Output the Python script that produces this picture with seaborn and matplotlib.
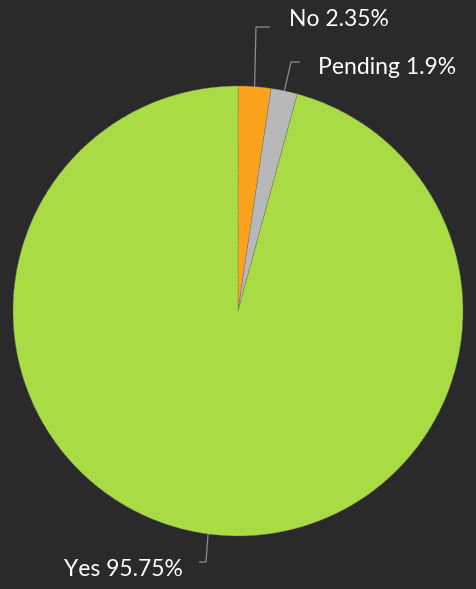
import matplotlib
matplotlib.use("Agg")
import matplotlib.pyplot as plt
import seaborn as sns
import numpy as np

categories = ["No", "Pending", "Yes"]
values = [2.35, 1.9, 95.75]
colors = ["#FBA31C", "#B8B8B8", "#A9DB45"]

bg = "#2A2A2A"
sns.set_theme(style="dark", rc={"figure.facecolor": bg, "axes.facecolor": bg})
plt.rcParams['font.family'] = ['Lato', 'DejaVu Sans']

fig = plt.figure(figsize=(4.77, 5.89), dpi=100)
ax = fig.add_axes([0, 0, 1, 1])
ax.set_facecolor(bg)

R = 225.0
cx, cy = 238.0, 311.0
wedges, _ = ax.pie(values, colors=colors, startangle=90, counterclock=False,
                   radius=1.0, wedgeprops=dict(edgecolor="#707070", linewidth=0.4,
                                               linestyle=(0, (3, 2))))

ax.set_xlim(-cx / R, (477 - cx) / R)
ax.set_ylim((cy - 589) / R, cy / R)
ax.set_aspect("auto")
ax.axis("off")

def px(x, y):
    return ((x - cx) / R, (cy - y) / R)

# label layout (pixel positions of elbow, line end and text anchor)
layout = {
    "No": dict(elbow=(256, 27), end=(270, 27), text=(289, 20), ha="left"),
    "Pending": dict(elbow=(291, 62), end=(300, 62), text=(318, 68), ha="left"),
    "Yes": dict(elbow=(206, 562), end=(199, 562), text=(183, 570), ha="right"),
}
line_col = "#8c8c8c"
for w, cat, val in zip(wedges, categories, values):
    ang = np.deg2rad((w.theta1 + w.theta2) / 2)
    sx, sy = np.cos(ang), np.sin(ang)
    L = layout[cat]
    ex, ey = px(*L["elbow"])
    fx, fy = px(*L["end"])
    ax.plot([sx, ex, fx], [sy, ey, fy], color=line_col, lw=0.9, solid_capstyle="butt")
    tx, ty = px(*L["text"])
    ax.text(tx, ty, f"{cat} {val:g}%", color="white", fontsize=16.5,
            ha=L["ha"], va="center")

fig.savefig("out.png", dpi=100, facecolor=bg)
